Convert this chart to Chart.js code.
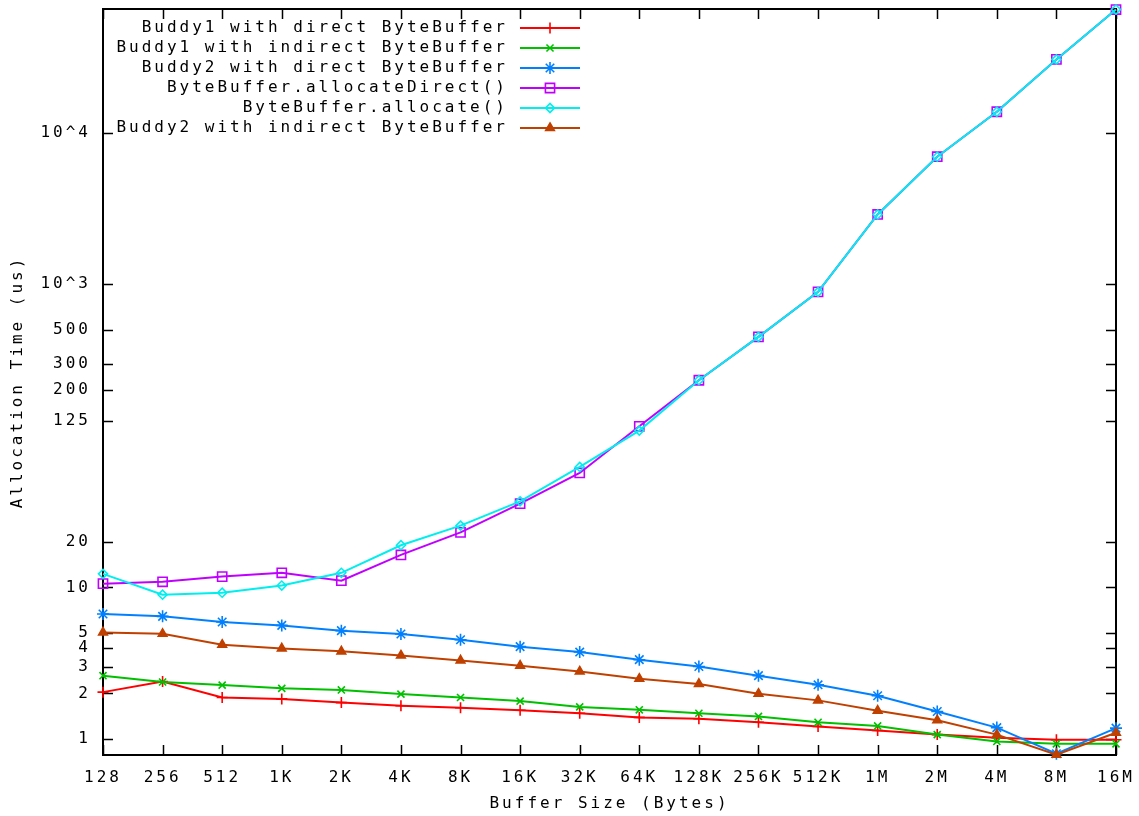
<!DOCTYPE html>
<html>
<head>
<meta charset="utf-8">
<title>Allocation Time vs Buffer Size</title>
<script src="https://cdn.jsdelivr.net/npm/chart.js@4/dist/chart.umd.min.js"></script>
<style>
  html, body { margin: 0; padding: 0; background: #fff; }
  #wrap { width: 1139px; height: 816px; position: relative; }
</style>
</head>
<body>
<div id="wrap"><canvas id="allocChart"></canvas></div>
<script>
// ============================================
//  Data
// ============================================
const sizes = ['128','256','512','1K','2K','4K','8K','16K','32K','64K','128K','256K','512K','1M','2M','4M','8M','16M'];

const buddy1Direct   = [2.04, 2.40, 1.88, 1.84, 1.74, 1.66, 1.61, 1.55, 1.48, 1.39, 1.36, 1.29, 1.21, 1.14, 1.07, 1.02, 0.99, 0.99];
const buddy1Indirect = [2.62, 2.38, 2.27, 2.16, 2.11, 1.98, 1.88, 1.78, 1.63, 1.56, 1.48, 1.41, 1.29, 1.22, 1.07, 0.965, 0.93, 0.93];
const buddy2Direct   = [6.68, 6.45, 5.92, 5.62, 5.19, 4.93, 4.52, 4.07, 3.75, 3.34, 3.01, 2.62, 2.28, 1.93, 1.52, 1.19, 0.80, 1.18];
const allocDirect    = [10.6, 10.9, 11.8, 12.5, 11.1, 16.4, 23.1, 35.7, 57.0, 115.7, 233, 450, 892, 2890, 6950, 13760, 30470, 65000];
const allocHeap      = [12.3, 8.96, 9.24, 10.3, 12.5, 19.0, 25.6, 37.0, 62.4, 108.4, 233, 450, 892, 2890, 6950, 13760, 30470, 65000];
const buddy2Indirect = [5.05, 4.95, 4.19, 3.96, 3.79, 3.56, 3.30, 3.05, 2.79, 2.50, 2.31, 1.99, 1.80, 1.54, 1.33, 1.07, 0.79, 1.10];

const yTicks = [1, 2, 3, 4, 5, 10, 20, 125, 200, 300, 500, 1000, 10000];

const FONT = '"DejaVu Sans Mono", "Liberation Mono", monospace';
const FSIZE = 16;
const SPACING = '3px';

// ============================================
//  Plugins: gnuplot-like frame, ticks, legend
// ============================================
const letterSpacing = {
  id: 'letterSpacing',
  beforeDraw(chart) { chart.ctx.letterSpacing = SPACING; }
};

const gnuFrame = {
  id: 'gnuFrame',
  beforeDatasetsDraw(chart) {
    const { ctx, chartArea: a, scales } = chart;
    const len = 10;
    ctx.save();
    ctx.strokeStyle = '#000';
    ctx.lineWidth = 2;
    ctx.strokeRect(a.left, a.top, a.right - a.left, a.bottom - a.top);
    ctx.lineWidth = 1.5;
    ctx.beginPath();
    scales.y.ticks.forEach(t => {
      const y = Math.round(scales.y.getPixelForValue(t.value)) + 0.5;
      ctx.moveTo(a.left, y); ctx.lineTo(a.left + len, y);
      ctx.moveTo(a.right, y); ctx.lineTo(a.right - len, y);
    });
    sizes.forEach((s, i) => {
      const x = Math.round(scales.x.getPixelForValue(i)) + 0.5;
      ctx.moveTo(x, a.bottom); ctx.lineTo(x, a.bottom - len);
      ctx.moveTo(x, a.top); ctx.lineTo(x, a.top + len);
    });
    ctx.stroke();
    ctx.restore();
  }
};

const gnuLegend = {
  id: 'gnuLegend',
  afterDatasetsDraw(chart) {
    const ctx = chart.ctx;
    ctx.save();
    ctx.font = FSIZE + 'px ' + FONT;
    ctx.letterSpacing = SPACING;
    ctx.textAlign = 'right';
    ctx.textBaseline = 'middle';
    chart.data.datasets.forEach((ds, i) => {
      const y = 28 + i * 20;
      ctx.fillStyle = '#000';
      ctx.fillText(ds.label, 508, y);
      ctx.strokeStyle = ds.borderColor;
      ctx.lineWidth = 2;
      ctx.beginPath();
      ctx.moveTo(520, y); ctx.lineTo(580, y);
      ctx.stroke();
      if (Chart.helpers && Chart.helpers.drawPoint) {
        ctx.fillStyle = ds.pointBackgroundColor;
        ctx.lineWidth = ds.pointBorderWidth;
        Chart.helpers.drawPoint(ctx, { pointStyle: ds.pointStyle, radius: ds.pointRadius, rotation: 0, borderWidth: ds.pointBorderWidth }, 550, y);
      }
    });
    ctx.restore();
  }
};

// ============================================
//  Chart
// ============================================
function series(label, data, color, style, radius, filled, idx) {
  return {
    label: label,
    data: data,
    borderColor: color,
    backgroundColor: color,
    borderWidth: 2,
    pointStyle: style,
    pointRadius: radius,
    pointBorderWidth: 1.6,
    pointBorderColor: color,
    pointBackgroundColor: filled ? color : 'rgba(0,0,0,0)',
    tension: 0,
    clip: false,
    order: 10 - idx
  };
}

function buildChart() {
  const ctx = document.getElementById('allocChart');
  const font = { family: FONT, size: FSIZE };
  new Chart(ctx, {
    type: 'line',
    data: {
      labels: sizes,
      datasets: [
        series('Buddy1 with direct ByteBuffer',   buddy1Direct,   '#ff0000', 'cross',    5.5, false, 0),
        series('Buddy1 with indirect ByteBuffer', buddy1Indirect, '#00c000', 'crossRot', 5,   false, 1),
        series('Buddy2 with direct ByteBuffer',   buddy2Direct,   '#0080ff', 'star',     6,   false, 2),
        series('ByteBuffer.allocateDirect()',     allocDirect,    '#c000ff', 'rect',     6.5, false, 3),
        series('ByteBuffer.allocate()',           allocHeap,      '#00eeee', 'rectRot',  4.5, false, 4),
        series('Buddy2 with indirect ByteBuffer', buddy2Indirect, '#c04000', 'triangle', 5,   true,  5)
      ]
    },
    options: {
      responsive: true,
      maintainAspectRatio: false,
      animation: false,
      layout: { padding: { left: 0, right: 23, top: 9, bottom: 0 } },
      plugins: { legend: { display: false }, tooltip: { enabled: false } },
      scales: {
        x: {
          offset: false,
          grid: { display: false },
          border: { display: false },
          ticks: { color: '#000', font: font, padding: 5, autoSkip: false, maxRotation: 0 },
          title: { display: true, text: 'Buffer Size (Bytes)', color: '#000', font: font, padding: { top: 0, bottom: 3 } },
          afterFit: s => { s.height = 61; s.paddingLeft = 0; s.paddingRight = 0; }
        },
        y: {
          type: 'logarithmic',
          min: 0.785,
          max: 65536,
          grid: { display: false },
          border: { display: false },
          afterBuildTicks: s => { s.ticks = yTicks.map(v => ({ value: v })); },
          ticks: {
            color: '#000',
            font: font,
            padding: 4,
            callback: v => v === 1000 ? '10^3' : v === 10000 ? '10^4' : String(v)
          },
          title: { display: true, text: 'Allocation Time (us)', color: '#000', font: font, padding: { top: 8, bottom: 0 } },
          afterFit: s => { s.width = 103; s.paddingTop = 0; s.paddingBottom = 0; }
        }
      }
    },
    plugins: [letterSpacing, gnuFrame, gnuLegend]
  });
}

document.addEventListener('DOMContentLoaded', buildChart);
</script>
</body>
</html>
